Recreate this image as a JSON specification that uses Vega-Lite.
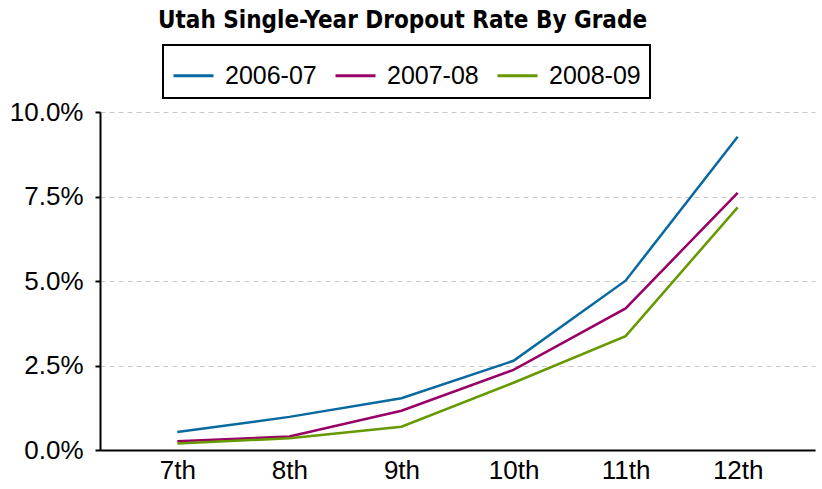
{
  "$schema": "https://vega.github.io/schema/vega-lite/v6.json",
  "width": 715,
  "height": 338,
  "autosize": {"type": "none"},
  "padding": {"left": 100, "top": 112, "right": 7, "bottom": 39},
  "background": "white",
  "title": {
    "text": "Utah Single-Year Dropout Rate By Grade",
    "font": "DejaVu Sans Condensed",
    "fontWeight": "bold",
    "fontSize": 24,
    "color": "black",
    "anchor": "middle",
    "frame": "group",
    "dx": -55,
    "offset": 11
  },
  "data": {
    "values": [
      {"grade": "7th", "year": "2006-07", "rate": 0.0053},
      {"grade": "8th", "year": "2006-07", "rate": 0.0098},
      {"grade": "9th", "year": "2006-07", "rate": 0.0153},
      {"grade": "10th", "year": "2006-07", "rate": 0.0264},
      {"grade": "11th", "year": "2006-07", "rate": 0.0501},
      {"grade": "12th", "year": "2006-07", "rate": 0.0927},
      {"grade": "7th", "year": "2007-08", "rate": 0.0026},
      {"grade": "8th", "year": "2007-08", "rate": 0.0040},
      {"grade": "9th", "year": "2007-08", "rate": 0.0116},
      {"grade": "10th", "year": "2007-08", "rate": 0.0237},
      {"grade": "11th", "year": "2007-08", "rate": 0.0419},
      {"grade": "12th", "year": "2007-08", "rate": 0.0761},
      {"grade": "7th", "year": "2008-09", "rate": 0.0019},
      {"grade": "8th", "year": "2008-09", "rate": 0.0035},
      {"grade": "9th", "year": "2008-09", "rate": 0.0069},
      {"grade": "10th", "year": "2008-09", "rate": 0.0199},
      {"grade": "11th", "year": "2008-09", "rate": 0.0337},
      {"grade": "12th", "year": "2008-09", "rate": 0.0718}
    ]
  },
  "mark": {"type": "line", "strokeWidth": 2.5},
  "encoding": {
    "x": {
      "field": "grade",
      "type": "ordinal",
      "sort": ["7th", "8th", "9th", "10th", "11th", "12th"],
      "scale": {"type": "point", "padding": 0.69},
      "axis": {
        "title": null,
        "labelAngle": 0,
        "labelFont": "Liberation Sans",
        "labelFontSize": 26,
        "labelColor": "black",
        "labelPadding": 7,
        "ticks": false,
        "domainColor": "black",
        "domainWidth": 2,
        "grid": false
      }
    },
    "y": {
      "field": "rate",
      "type": "quantitative",
      "scale": {"domain": [0, 0.1], "nice": false},
      "axis": {
        "title": null,
        "format": ".1%",
        "values": [0, 0.025, 0.05, 0.075, 0.1],
        "labelFont": "Liberation Sans",
        "labelFontSize": 26,
        "labelColor": "black",
        "labelPadding": 12,
        "tickColor": "black",
        "tickWidth": 2,
        "tickSize": 5,
        "domainColor": "black",
        "domainWidth": 2,
        "grid": true,
        "gridColor": "#c8c8c8",
        "gridDash": [5, 4],
        "gridWidth": 1
      }
    },
    "color": {
      "field": "year",
      "type": "nominal",
      "scale": {"domain": ["2006-07", "2007-08", "2008-09"], "range": ["#0869a0", "#990066", "#669900"]},
      "legend": {
        "title": null,
        "orient": "none",
        "direction": "horizontal",
        "legendX": 63,
        "legendY": -67,
        "symbolType": "stroke",
        "symbolSize": 1600,
        "symbolStrokeWidth": 3,
        "labelFont": "Liberation Sans",
        "labelFontSize": 25,
        "labelColor": "black",
        "labelOffset": 10,
        "columnPadding": 12,
        "strokeColor": "black",
        "padding": 9
      }
    }
  },
  "config": {
    "view": {"stroke": null},
    "legend": {"strokeWidth": 2}
  }
}
